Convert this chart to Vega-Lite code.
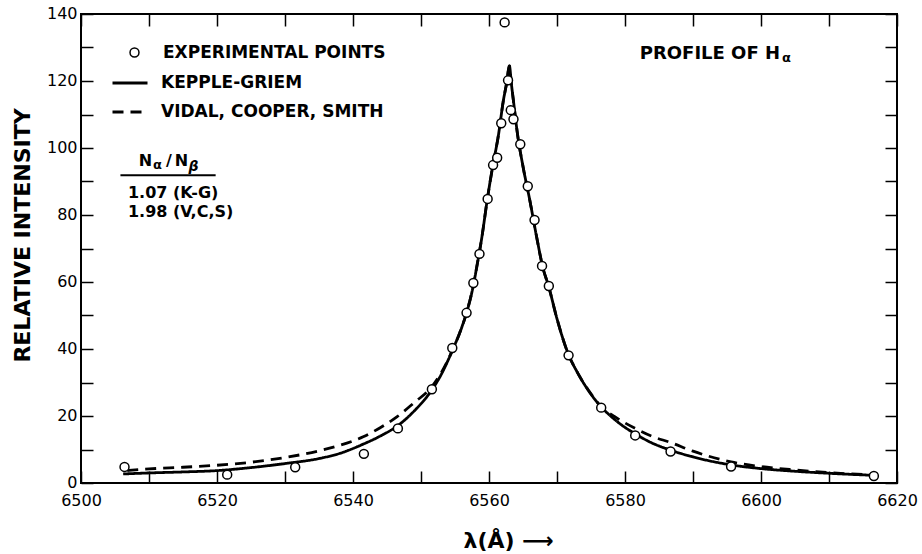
{
  "$schema": "https://vega.github.io/schema/vega-lite/v6.json",
  "width": 816,
  "height": 469,
  "autosize": {"type": "none"},
  "padding": {"left": 81, "top": 14, "right": 25, "bottom": 71},
  "background": "white",
  "config": {
    "font": "DejaVu Sans",
    "view": {"stroke": "black", "strokeWidth": 2},
    "axis": {
      "grid": false,
      "domain": false,
      "labelFont": "DejaVu Sans",
      "labelFontSize": 16,
      "labelColor": "black",
      "tickColor": "black",
      "tickWidth": 1.5,
      "tickSize": -12,
      "labelFlush": false,
      "labelOverlap": false,
      "titleColor": "black",
      "titleFont": "DejaVu Sans"
    },
    "legend": {"labelFont": "DejaVu Sans", "labelColor": "black", "labelFontSize": 17, "labelFontWeight": "bold", "labelLimit": 0}
  },
  "datasets": {
    "curves": [
      {"wl": 6506.2, "intensity": 2.7, "model": "KEPPLE-GRIEM"},
      {"wl": 6510, "intensity": 3.0, "model": "KEPPLE-GRIEM"},
      {"wl": 6515, "intensity": 3.3, "model": "KEPPLE-GRIEM"},
      {"wl": 6520, "intensity": 3.7, "model": "KEPPLE-GRIEM"},
      {"wl": 6525, "intensity": 4.6, "model": "KEPPLE-GRIEM"},
      {"wl": 6530, "intensity": 5.8, "model": "KEPPLE-GRIEM"},
      {"wl": 6535, "intensity": 7.3, "model": "KEPPLE-GRIEM"},
      {"wl": 6538, "intensity": 8.8, "model": "KEPPLE-GRIEM"},
      {"wl": 6541.5, "intensity": 11.6, "model": "KEPPLE-GRIEM"},
      {"wl": 6544, "intensity": 14.0, "model": "KEPPLE-GRIEM"},
      {"wl": 6546.5, "intensity": 17.0, "model": "KEPPLE-GRIEM"},
      {"wl": 6549, "intensity": 21.5, "model": "KEPPLE-GRIEM"},
      {"wl": 6551.5, "intensity": 27.5, "model": "KEPPLE-GRIEM"},
      {"wl": 6553, "intensity": 32.5, "model": "KEPPLE-GRIEM"},
      {"wl": 6554.6, "intensity": 39.5, "model": "KEPPLE-GRIEM"},
      {"wl": 6556, "intensity": 46.5, "model": "KEPPLE-GRIEM"},
      {"wl": 6556.7, "intensity": 50.8, "model": "KEPPLE-GRIEM"},
      {"wl": 6557.7, "intensity": 59, "model": "KEPPLE-GRIEM"},
      {"wl": 6558.2, "intensity": 64.5, "model": "KEPPLE-GRIEM"},
      {"wl": 6559, "intensity": 74, "model": "KEPPLE-GRIEM"},
      {"wl": 6559.7, "intensity": 84, "model": "KEPPLE-GRIEM"},
      {"wl": 6560.5, "intensity": 94, "model": "KEPPLE-GRIEM"},
      {"wl": 6561.4, "intensity": 104, "model": "KEPPLE-GRIEM"},
      {"wl": 6562.1, "intensity": 114, "model": "KEPPLE-GRIEM"},
      {"wl": 6562.6, "intensity": 119.5, "model": "KEPPLE-GRIEM"},
      {"wl": 6563.0, "intensity": 124.5, "model": "KEPPLE-GRIEM"},
      {"wl": 6563.3, "intensity": 119, "model": "KEPPLE-GRIEM"},
      {"wl": 6563.6, "intensity": 114, "model": "KEPPLE-GRIEM"},
      {"wl": 6564.2, "intensity": 104, "model": "KEPPLE-GRIEM"},
      {"wl": 6565, "intensity": 94.5, "model": "KEPPLE-GRIEM"},
      {"wl": 6566, "intensity": 84.4, "model": "KEPPLE-GRIEM"},
      {"wl": 6567, "intensity": 73.5, "model": "KEPPLE-GRIEM"},
      {"wl": 6567.9, "intensity": 64.5, "model": "KEPPLE-GRIEM"},
      {"wl": 6568.8, "intensity": 58.5, "model": "KEPPLE-GRIEM"},
      {"wl": 6570, "intensity": 49, "model": "KEPPLE-GRIEM"},
      {"wl": 6571.7, "intensity": 38.3, "model": "KEPPLE-GRIEM"},
      {"wl": 6573, "intensity": 33, "model": "KEPPLE-GRIEM"},
      {"wl": 6575, "intensity": 26.5, "model": "KEPPLE-GRIEM"},
      {"wl": 6576.5, "intensity": 22.7, "model": "KEPPLE-GRIEM"},
      {"wl": 6578, "intensity": 19.8, "model": "KEPPLE-GRIEM"},
      {"wl": 6580, "intensity": 16.6, "model": "KEPPLE-GRIEM"},
      {"wl": 6581.5, "intensity": 14.7, "model": "KEPPLE-GRIEM"},
      {"wl": 6583.5, "intensity": 12.4, "model": "KEPPLE-GRIEM"},
      {"wl": 6586.7, "intensity": 9.8, "model": "KEPPLE-GRIEM"},
      {"wl": 6590, "intensity": 7.8, "model": "KEPPLE-GRIEM"},
      {"wl": 6595.6, "intensity": 5.4, "model": "KEPPLE-GRIEM"},
      {"wl": 6600, "intensity": 4.3, "model": "KEPPLE-GRIEM"},
      {"wl": 6605, "intensity": 3.5, "model": "KEPPLE-GRIEM"},
      {"wl": 6610, "intensity": 2.9, "model": "KEPPLE-GRIEM"},
      {"wl": 6616.4, "intensity": 2.3, "model": "KEPPLE-GRIEM"},

      {"wl": 6506.8, "intensity": 3.7, "model": "VIDAL, COOPER, SMITH"},
      {"wl": 6510, "intensity": 4.2, "model": "VIDAL, COOPER, SMITH"},
      {"wl": 6515, "intensity": 4.7, "model": "VIDAL, COOPER, SMITH"},
      {"wl": 6520, "intensity": 5.3, "model": "VIDAL, COOPER, SMITH"},
      {"wl": 6525, "intensity": 6.2, "model": "VIDAL, COOPER, SMITH"},
      {"wl": 6530, "intensity": 7.6, "model": "VIDAL, COOPER, SMITH"},
      {"wl": 6535, "intensity": 9.6, "model": "VIDAL, COOPER, SMITH"},
      {"wl": 6538, "intensity": 11.2, "model": "VIDAL, COOPER, SMITH"},
      {"wl": 6541.5, "intensity": 13.8, "model": "VIDAL, COOPER, SMITH"},
      {"wl": 6544, "intensity": 16.5, "model": "VIDAL, COOPER, SMITH"},
      {"wl": 6546.5, "intensity": 19.8, "model": "VIDAL, COOPER, SMITH"},
      {"wl": 6549, "intensity": 24, "model": "VIDAL, COOPER, SMITH"},
      {"wl": 6551.5, "intensity": 28.5, "model": "VIDAL, COOPER, SMITH"},
      {"wl": 6553, "intensity": 33, "model": "VIDAL, COOPER, SMITH"},
      {"wl": 6554.6, "intensity": 39.5, "model": "VIDAL, COOPER, SMITH"},
      {"wl": 6556, "intensity": 46.5, "model": "VIDAL, COOPER, SMITH"},
      {"wl": 6556.7, "intensity": 50.8, "model": "VIDAL, COOPER, SMITH"},
      {"wl": 6557.7, "intensity": 59, "model": "VIDAL, COOPER, SMITH"},
      {"wl": 6558.2, "intensity": 64.5, "model": "VIDAL, COOPER, SMITH"},
      {"wl": 6559, "intensity": 74, "model": "VIDAL, COOPER, SMITH"},
      {"wl": 6559.7, "intensity": 84, "model": "VIDAL, COOPER, SMITH"},
      {"wl": 6560.5, "intensity": 94, "model": "VIDAL, COOPER, SMITH"},
      {"wl": 6561.4, "intensity": 104, "model": "VIDAL, COOPER, SMITH"},
      {"wl": 6562.1, "intensity": 114, "model": "VIDAL, COOPER, SMITH"},
      {"wl": 6562.6, "intensity": 119.5, "model": "VIDAL, COOPER, SMITH"},
      {"wl": 6563.0, "intensity": 124.5, "model": "VIDAL, COOPER, SMITH"},
      {"wl": 6563.3, "intensity": 119, "model": "VIDAL, COOPER, SMITH"},
      {"wl": 6563.6, "intensity": 114, "model": "VIDAL, COOPER, SMITH"},
      {"wl": 6564.2, "intensity": 104, "model": "VIDAL, COOPER, SMITH"},
      {"wl": 6565, "intensity": 94.5, "model": "VIDAL, COOPER, SMITH"},
      {"wl": 6566, "intensity": 84.4, "model": "VIDAL, COOPER, SMITH"},
      {"wl": 6567, "intensity": 73.5, "model": "VIDAL, COOPER, SMITH"},
      {"wl": 6567.9, "intensity": 64.5, "model": "VIDAL, COOPER, SMITH"},
      {"wl": 6568.8, "intensity": 58.5, "model": "VIDAL, COOPER, SMITH"},
      {"wl": 6570, "intensity": 49, "model": "VIDAL, COOPER, SMITH"},
      {"wl": 6571.7, "intensity": 38.3, "model": "VIDAL, COOPER, SMITH"},
      {"wl": 6573, "intensity": 33, "model": "VIDAL, COOPER, SMITH"},
      {"wl": 6575, "intensity": 26.6, "model": "VIDAL, COOPER, SMITH"},
      {"wl": 6576.5, "intensity": 22.8, "model": "VIDAL, COOPER, SMITH"},
      {"wl": 6578.5, "intensity": 19.8, "model": "VIDAL, COOPER, SMITH"},
      {"wl": 6581.5, "intensity": 16.3, "model": "VIDAL, COOPER, SMITH"},
      {"wl": 6584, "intensity": 13.9, "model": "VIDAL, COOPER, SMITH"},
      {"wl": 6586.7, "intensity": 12.1, "model": "VIDAL, COOPER, SMITH"},
      {"wl": 6590, "intensity": 9.5, "model": "VIDAL, COOPER, SMITH"},
      {"wl": 6595.6, "intensity": 6.3, "model": "VIDAL, COOPER, SMITH"},
      {"wl": 6600, "intensity": 4.9, "model": "VIDAL, COOPER, SMITH"},
      {"wl": 6605, "intensity": 3.9, "model": "VIDAL, COOPER, SMITH"},
      {"wl": 6610, "intensity": 3.1, "model": "VIDAL, COOPER, SMITH"},
      {"wl": 6616.4, "intensity": 2.4, "model": "VIDAL, COOPER, SMITH"}
    ],
    "points": [
      {"wl": 6506.4, "intensity": 4.8, "series": "EXPERIMENTAL POINTS"},
      {"wl": 6521.5, "intensity": 2.5, "series": "EXPERIMENTAL POINTS"},
      {"wl": 6531.5, "intensity": 4.7, "series": "EXPERIMENTAL POINTS"},
      {"wl": 6541.6, "intensity": 8.7, "series": "EXPERIMENTAL POINTS"},
      {"wl": 6546.6, "intensity": 16.3, "series": "EXPERIMENTAL POINTS"},
      {"wl": 6551.6, "intensity": 28.0, "series": "EXPERIMENTAL POINTS"},
      {"wl": 6554.6, "intensity": 40.3, "series": "EXPERIMENTAL POINTS"},
      {"wl": 6556.7, "intensity": 50.8, "series": "EXPERIMENTAL POINTS"},
      {"wl": 6557.7, "intensity": 59.7, "series": "EXPERIMENTAL POINTS"},
      {"wl": 6558.6, "intensity": 68.4, "series": "EXPERIMENTAL POINTS"},
      {"wl": 6559.8, "intensity": 84.8, "series": "EXPERIMENTAL POINTS"},
      {"wl": 6560.6, "intensity": 94.9, "series": "EXPERIMENTAL POINTS"},
      {"wl": 6561.2, "intensity": 97.1, "series": "EXPERIMENTAL POINTS"},
      {"wl": 6561.8, "intensity": 107.4, "series": "EXPERIMENTAL POINTS"},
      {"wl": 6562.3, "intensity": 137.5, "series": "EXPERIMENTAL POINTS"},
      {"wl": 6562.8, "intensity": 120.2, "series": "EXPERIMENTAL POINTS"},
      {"wl": 6563.2, "intensity": 111.3, "series": "EXPERIMENTAL POINTS"},
      {"wl": 6563.6, "intensity": 108.6, "series": "EXPERIMENTAL POINTS"},
      {"wl": 6564.6, "intensity": 101.1, "series": "EXPERIMENTAL POINTS"},
      {"wl": 6565.7, "intensity": 88.6, "series": "EXPERIMENTAL POINTS"},
      {"wl": 6566.7, "intensity": 78.5, "series": "EXPERIMENTAL POINTS"},
      {"wl": 6567.8, "intensity": 64.8, "series": "EXPERIMENTAL POINTS"},
      {"wl": 6568.8, "intensity": 58.8, "series": "EXPERIMENTAL POINTS"},
      {"wl": 6571.7, "intensity": 38.1, "series": "EXPERIMENTAL POINTS"},
      {"wl": 6576.5, "intensity": 22.5, "series": "EXPERIMENTAL POINTS"},
      {"wl": 6581.5, "intensity": 14.2, "series": "EXPERIMENTAL POINTS"},
      {"wl": 6586.7, "intensity": 9.4, "series": "EXPERIMENTAL POINTS"},
      {"wl": 6595.6, "intensity": 4.9, "series": "EXPERIMENTAL POINTS"},
      {"wl": 6616.6, "intensity": 2.1, "series": "EXPERIMENTAL POINTS"}
    ]
  },
  "resolve": {"axis": {"x": "independent", "y": "independent"}},
  "layer": [
    {
      "data": {"name": "curves"},
      "mark": {"type": "line", "color": "black", "strokeWidth": 2.8, "interpolate": "monotone"},
      "encoding": {
        "x": {
          "field": "wl", "type": "quantitative",
          "scale": {"domain": [6500, 6620], "nice": false, "zero": false},
          "axis": {
            "orient": "bottom",
            "values": [6500, 6510, 6520, 6530, 6540, 6550, 6560, 6570, 6580, 6590, 6600, 6610, 6620],
            "labelExpr": "datum.value % 20 == 0 ? datum.value : ''",
            "labelPadding": 21,
            "title": "λ(Å)  ⟶",
            "titleFontSize": 22,
            "titleFontWeight": "bold",
            "titleAnchor": "start",
            "titleAlign": "left",
            "titleBaseline": "middle",
            "titleX": 382,
            "titleY": 57
          }
        },
        "y": {
          "field": "intensity", "type": "quantitative",
          "scale": {"domain": [0, 140], "nice": false},
          "axis": {
            "orient": "left",
            "values": [0, 10, 20, 30, 40, 50, 60, 70, 80, 90, 100, 110, 120, 130, 140],
            "labelExpr": "datum.value % 20 == 0 ? datum.value : ''",
            "labelPadding": 16,
            "labelOffset": -1,
            "title": "RELATIVE INTENSITY",
            "titleFontSize": 22,
            "titleFontWeight": "bold",
            "titleAngle": -90,
            "titleAlign": "center",
            "titleBaseline": "middle",
            "titleX": -59,
            "titleY": 221
          }
        },
        "strokeDash": {
          "field": "model", "type": "nominal",
          "scale": {"domain": ["KEPPLE-GRIEM", "VIDAL, COOPER, SMITH"], "range": [[1, 0], [11, 7]]},
          "legend": {
            "title": null,
            "orient": "none",
            "legendX": 30,
            "legendY": 50,
            "symbolType": "stroke",
            "symbolSize": 1225,
            "symbolStrokeWidth": 3,
            "symbolStrokeColor": "black",
            "labelOffset": 12,
            "rowPadding": 2,
            "padding": 0
          }
        }
      }
    },
    {
      "data": {"name": "points"},
      "mark": {"type": "point", "filled": false, "fill": "white", "stroke": "black", "color": "black", "strokeWidth": 1.5, "size": 80, "opacity": 1},
      "encoding": {
        "x": {
          "field": "wl", "type": "quantitative",
          "scale": {"domain": [6500, 6620], "nice": false, "zero": false},
          "axis": {
            "orient": "top", "labels": false, "title": null,
            "values": [6500, 6510, 6520, 6530, 6540, 6550, 6560, 6570, 6580, 6590, 6600, 6610, 6620]
          }
        },
        "y": {
          "field": "intensity", "type": "quantitative",
          "scale": {"domain": [0, 140], "nice": false},
          "axis": {
            "orient": "right", "labels": false, "title": null,
            "values": [0, 10, 20, 30, 40, 50, 60, 70, 80, 90, 100, 110, 120, 130, 140]
          }
        },
        "shape": {
          "field": "series", "type": "nominal",
          "scale": {"range": ["circle"]},
          "legend": {
            "title": null,
            "orient": "none",
            "legendX": 45,
            "legendY": 30,
            "symbolSize": 80,
            "symbolOpacity": 1,
            "labelOffset": 20,
            "padding": 0,
            "encode": {
              "symbols": {
                "update": {
                  "shape": {"value": "circle"},
                  "stroke": {"value": "black"},
                  "fill": {"value": "white"},
                  "strokeWidth": {"value": 1.5},
                  "opacity": {"value": 1},
                  "fillOpacity": {"value": 1},
                  "strokeOpacity": {"value": 1}
                }
              }
            }
          }
        }
      }
    },
    {
      "data": {"values": [{}]},
      "mark": {"type": "text", "align": "right", "baseline": "middle", "fontSize": 18, "fontWeight": "bold", "color": "black"},
      "encoding": {
        "x": {"datum": 6602.8, "type": "quantitative", "axis": null},
        "y": {"datum": 128.2, "type": "quantitative", "axis": null},
        "text": {"value": "PROFILE OF H"}
      }
    },
    {
      "data": {"values": [{}]},
      "mark": {"type": "text", "align": "left", "baseline": "middle", "fontSize": 13, "color": "black", "fontWeight": "bold", "dx": 2},
      "encoding": {
        "x": {"datum": 6602.8, "type": "quantitative", "axis": null},
        "y": {"datum": 126.9, "type": "quantitative", "axis": null},
        "text": {"value": "α"}
      }
    },
    {
      "data": {"values": [{}]},
      "mark": {"type": "text", "align": "left", "baseline": "middle", "fontSize": 16, "fontWeight": "bold", "color": "black"},
      "encoding": {
        "x": {"datum": 6508.5, "type": "quantitative", "axis": null},
        "y": {"datum": 96.0, "type": "quantitative", "axis": null},
        "text": {"value": "N"}
      }
    },
    {
      "data": {"values": [{}]},
      "mark": {"type": "text", "align": "left", "baseline": "middle", "fontSize": 13, "color": "black", "fontWeight": "bold"},
      "encoding": {
        "x": {"datum": 6510.6, "type": "quantitative", "axis": null},
        "y": {"datum": 95.0, "type": "quantitative", "axis": null},
        "text": {"value": "α"}
      }
    },
    {
      "data": {"values": [{}]},
      "mark": {"type": "text", "align": "left", "baseline": "middle", "fontSize": 16, "fontWeight": "bold", "color": "black"},
      "encoding": {
        "x": {"datum": 6512.5, "type": "quantitative", "axis": null},
        "y": {"datum": 96.0, "type": "quantitative", "axis": null},
        "text": {"value": "/"}
      }
    },
    {
      "data": {"values": [{}]},
      "mark": {"type": "text", "align": "left", "baseline": "middle", "fontSize": 16, "fontWeight": "bold", "color": "black"},
      "encoding": {
        "x": {"datum": 6513.8, "type": "quantitative", "axis": null},
        "y": {"datum": 96.0, "type": "quantitative", "axis": null},
        "text": {"value": "N"}
      }
    },
    {
      "data": {"values": [{}]},
      "mark": {"type": "text", "align": "left", "baseline": "middle", "fontSize": 14, "color": "black", "fontWeight": "bold", "fontStyle": "italic"},
      "encoding": {
        "x": {"datum": 6515.8, "type": "quantitative", "axis": null},
        "y": {"datum": 94.3, "type": "quantitative", "axis": null},
        "text": {"value": "β"}
      }
    },
    {
      "data": {"values": [{}]},
      "mark": {"type": "rule", "color": "black", "strokeWidth": 2},
      "encoding": {
        "x": {"datum": 6505.8, "type": "quantitative", "axis": null},
        "x2": {"datum": 6519.8},
        "y": {"datum": 91.9, "type": "quantitative", "axis": null}
      }
    },
    {
      "data": {"values": [{}]},
      "mark": {"type": "text", "align": "left", "baseline": "middle", "fontSize": 16, "fontWeight": "bold", "color": "black"},
      "encoding": {
        "x": {"datum": 6506.9, "type": "quantitative", "axis": null},
        "y": {"datum": 86.6, "type": "quantitative", "axis": null},
        "text": {"value": "1.07 (K-G)"}
      }
    },
    {
      "data": {"values": [{}]},
      "mark": {"type": "text", "align": "left", "baseline": "middle", "fontSize": 16, "fontWeight": "bold", "color": "black"},
      "encoding": {
        "x": {"datum": 6506.9, "type": "quantitative", "axis": null},
        "y": {"datum": 80.9, "type": "quantitative", "axis": null},
        "text": {"value": "1.98 (V,C,S)"}
      }
    }
  ]
}
